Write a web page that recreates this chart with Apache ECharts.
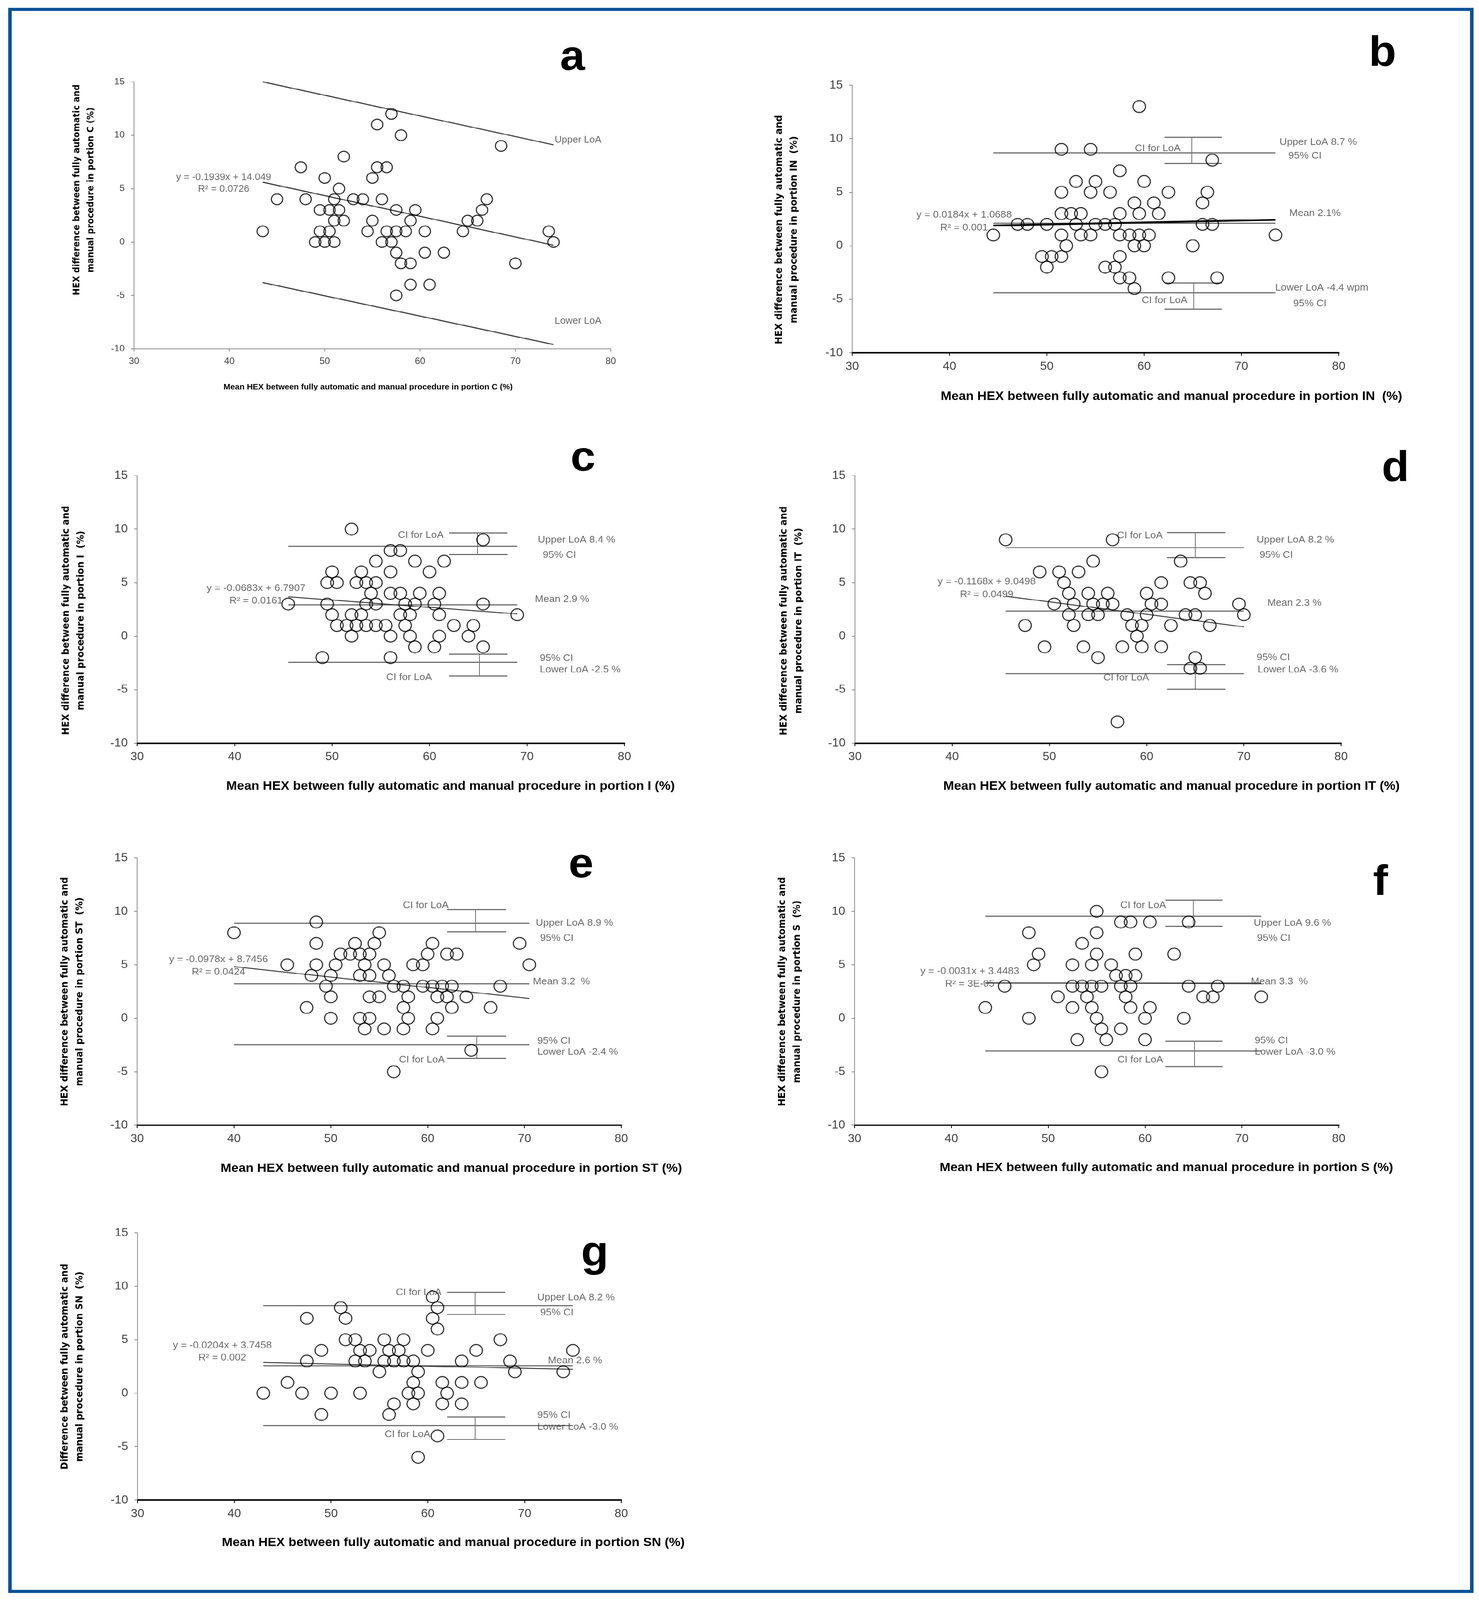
<!DOCTYPE html>
<html><head><meta charset="utf-8">
<script src="https://cdn.jsdelivr.net/npm/echarts@6/dist/echarts.min.js"></script>
<style>html,body{margin:0;padding:0;background:#fff;overflow:hidden}#c{width:3785px;height:4340px;transform-origin:0 0}</style>
</head><body><div id="c"></div>
<script>
// ---------- axis ranges ----------
const xRange = [30, 80, 10];
const yRange = [-10, 15, 5];

// ---------- panel a (portion C) ----------
const ptsA = [[43.5,1],[45,4],[47.5,7],[48,4],[49,0],[49.5,3],[49.5,1],[50,6],[50,0],[50.5,3],[50.5,1],[51,4],[51,2],[51,0],[51.5,5],[51.5,3],[52,8],[52,2],[53,4],[54,4],[54.5,1],[55,6],[55,2],[55.5,11],[55.5,7],[56,4],[56,0],[56.5,7],[56.5,1],[57,12],[57,0],[57.5,3],[57.5,1],[57.5,-1],[57.5,-5],[58,10],[58,-2],[58.5,1],[59,2],[59,-2],[59,-4],[59.5,3],[60.5,1],[60.5,-1],[61,-4],[62.5,-1],[64.5,1],[65,2],[66,2],[66.5,3],[67,4],[68.5,9],[70,-2],[73.5,1],[74,0]];
const loaA = [[[43.5,15],[74,9.1]],[[43.5,-3.8],[74,-9.6]]];
const regA = [[43.5,5.6],[74,-0.3]];
const ciA = [];
const labA = [['Upper LoA','l',74.1,9.55],['Lower LoA','l',74.1,-7.4],['y = -0.1939x + 14.049','c',39.4,6.07],['R\u00b2 = 0.0726','c',39.4,4.95]];

// ---------- panel b (portion IN) ----------
const ptsB = [[59.5,13],[51.5,9],[54.5,9],[67,8],[57.5,7],[53,6],[55,6],[60,6],[51.5,5],[54.5,5],[56.5,5],[62.5,5],[66.5,5],[59,4],[61,4],[66,4],[51.5,3],[52.5,3],[53.5,3],[57.5,3],[59.5,3],[61.5,3],[47,2],[48,2],[50,2],[53,2],[55,2],[56,2],[57,2],[66,2],[67,2],[44.5,1],[51.5,1],[53.5,1],[54.5,1],[57.5,1],[58.5,1],[59.5,1],[60.5,1],[73.5,1],[52,0],[59,0],[60,0],[65,0],[49.5,-1],[50.5,-1],[51.5,-1],[57.5,-1],[50,-2],[56,-2],[57,-2],[57.5,-3],[58.5,-3],[62.5,-3],[67.5,-3],[59,-4]];
const loaB = [[[44.5,8.7],[73.5,8.7]],[[44.5,2.1],[73.5,2.1]],[[44.5,-4.4],[73.5,-4.4]]];
const regB = [[44.5,1.89],[73.5,2.42]];
const ciB = [[62.1,68,64.9,10.15,7.7],[62.1,68,65.1,-3.45,-5.9]];
const labB = [['CI for LoA','c',61.4,9.1],['Upper LoA 8.7 %','l',73.9,9.67],['95% CI','l',74.8,8.4],['Mean 2.1%','l',74.9,3.03],['y = 0.0184x + 1.0688','c',41.5,2.9],['R\u00b2 = 0.001','c',41.5,1.67],['Lower LoA -4.4 wpm','l',73.45,-3.93],['CI for LoA','c',62.1,-5.1],['95% CI','l',75.3,-5.4]];

// ---------- panel c (portion I) ----------
const ptsC = [[52,10],[65.5,9],[56,8],[57,8],[54.5,7],[58.5,7],[61.5,7],[50,6],[53,6],[56,6],[60,6],[49.5,5],[50.5,5],[52.5,5],[53.5,5],[54.5,5],[54,4],[56,4],[57,4],[59,4],[61,4],[45.5,3],[49.5,3],[53.5,3],[54.5,3],[57.5,3],[58.5,3],[60.5,3],[65.5,3],[50,2],[52,2],[53,2],[57,2],[58,2],[61,2],[69,2],[50.5,1],[51.5,1],[52.5,1],[53.5,1],[54.5,1],[55.5,1],[57.5,1],[62.5,1],[64.5,1],[52,0],[56,0],[58,0],[61,0],[64,0],[58.5,-1],[60.5,-1],[65.5,-1],[49,-2],[56,-2]];
const loaC = [[[45.5,8.4],[69,8.4]],[[45.5,2.95],[69,2.95]],[[45.5,-2.45],[69,-2.45]]];
const regC = [[45.5,3.68],[69,2.08]];
const ciC = [[62,68,64.9,9.64,7.62],[62,68,65.1,-1.67,-3.69]];
const labC = [['CI for LoA','c',59.1,9.44],['Upper LoA 8.4 %','l',71.1,8.97],['95% CI','l',71.6,7.56],['Mean 2.9 %','l',70.8,3.45],['y = -0.0683x + 6.7907','c',42.2,4.48],['R\u00b2 = 0.0161','c',42.2,3.29],['95% CI','l',71.3,-2.06],['Lower LoA -2.5 %','l',71.3,-3.15],['CI for LoA','c',57.9,-3.85]];

// ---------- panel d (portion IT) ----------
const ptsD = [[45.5,9],[56.5,9],[54.5,7],[63.5,7],[49,6],[51,6],[53,6],[51.5,5],[61.5,5],[64.5,5],[65.5,5],[52,4],[54,4],[56,4],[60,4],[66,4],[50.5,3],[52.5,3],[54.5,3],[55.5,3],[56.5,3],[60.5,3],[61.5,3],[69.5,3],[52,2],[54,2],[55,2],[58,2],[60,2],[64,2],[65,2],[70,2],[47.5,1],[52.5,1],[58.5,1],[59.5,1],[62.5,1],[66.5,1],[59,0],[49.5,-1],[53.5,-1],[57.5,-1],[59.5,-1],[61.5,-1],[55,-2],[65,-2],[64.5,-3],[65.5,-3],[57,-8]];
const loaD = [[[45.5,8.28],[70,8.28]],[[45.5,2.35],[70,2.35]],[[45.5,-3.5],[70,-3.5]]];
const regD = [[45.5,3.73],[70,0.87]];
const ciD = [[62.1,68.1,65,9.7,7.36],[62.1,68.1,65,-2.64,-4.94]];
const labD = [['CI for LoA','c',59.3,9.4],['Upper LoA 8.2 %','l',71.3,8.97],['95% CI','l',71.6,7.56],['Mean 2.3 %','l',72.4,3.1],['y = -0.1168x + 9.0498','c',43.55,5.08],['R\u00b2 = 0.0499','c',43.55,3.89],['95% CI','l',71.3,-2.0],['Lower LoA -3.6 %','l',71.4,-3.13],['CI for LoA','c',57.9,-3.89]];

// ---------- panel e (portion ST) ----------
const ptsE = [[48.5,9],[40,8],[55,8],[48.5,7],[52.5,7],[54.5,7],[60.5,7],[69.5,7],[51,6],[52,6],[53,6],[54,6],[60,6],[62,6],[63,6],[45.5,5],[48.5,5],[50.5,5],[53.5,5],[55.5,5],[58.5,5],[59.5,5],[70.5,5],[48,4],[50,4],[53,4],[54,4],[56,4],[49.5,3],[56.5,3],[57.5,3],[59.5,3],[60.5,3],[61.5,3],[62.5,3],[67.5,3],[50,2],[54,2],[55,2],[58,2],[61,2],[62,2],[64,2],[47.5,1],[57.5,1],[62.5,1],[66.5,1],[50,0],[53,0],[54,0],[58,0],[61,0],[53.5,-1],[55.5,-1],[57.5,-1],[60.5,-1],[64.5,-3],[56.5,-5]];
const loaE = [[[40,8.9],[70.5,8.9]],[[40,3.22],[70.5,3.22]],[[40,-2.45],[70.5,-2.45]]];
const regE = [[40,4.83],[70.5,1.85]];
const ciE = [[62,68.1,64.95,10.17,8.08],[62,68.1,65.07,-1.65,-3.74]];
const labE = [['CI for LoA','c',59.8,10.57],['Upper LoA 8.9 %','l',71.15,8.9],['95% CI','l',71.6,7.5],['Mean 3.2  %','l',70.85,3.41],['y = -0.0978x + 8.7456','c',38.4,5.5],['R\u00b2 = 0.0424','c',38.4,4.3],['95% CI','l',71.3,-2.13],['Lower LoA -2.4 %','l',71.3,-3.18],['CI for LoA','c',59.4,-3.88]];

// ---------- panel f (portion S) ----------
const ptsF = [[55,10],[57.5,9],[58.5,9],[60.5,9],[64.5,9],[48,8],[55,8],[53.5,7],[49,6],[55,6],[59,6],[63,6],[48.5,5],[52.5,5],[54.5,5],[56.5,5],[57,4],[58,4],[59,4],[45.5,3],[52.5,3],[53.5,3],[54.5,3],[55.5,3],[57.5,3],[58.5,3],[64.5,3],[67.5,3],[51,2],[54,2],[58,2],[66,2],[67,2],[72,2],[43.5,1],[52.5,1],[54.5,1],[58.5,1],[60.5,1],[48,0],[55,0],[60,0],[64,0],[55.5,-1],[57.5,-1],[53,-2],[56,-2],[60,-2],[55.5,-5]];
const loaF = [[[43.5,9.55],[72,9.55]],[[43.5,3.3],[72,3.3]],[[43.5,-3.05],[72,-3.05]]];
const regF = [[43.5,3.31],[72,3.23]];
const ciF = [[62.1,68,64.96,11.07,8.62],[62.1,68,65.1,-2.13,-4.51]];
const labF = [['CI for LoA','c',59.8,10.57],['Upper LoA 9.6 %','l',71.2,8.9],['95% CI','l',71.55,7.5],['Mean 3.3  %','l',70.9,3.41],['y = -0.0031x + 3.4483','c',41.9,4.37],['R\u00b2 = 3E-05','c',41.9,3.2],['95% CI','l',71.3,-2.09],['Lower LoA -3.0 %','l',71.3,-3.18],['CI for LoA','c',59.5,-3.88]];

// ---------- panel g (portion SN) ----------
const ptsG = [[60.5,9],[51,8],[61,8],[47.5,7],[51.5,7],[60.5,7],[61,6],[51.5,5],[52.5,5],[55.5,5],[57.5,5],[67.5,5],[49,4],[53,4],[54,4],[56,4],[57,4],[60,4],[65,4],[75,4],[47.5,3],[52.5,3],[53.5,3],[55.5,3],[56.5,3],[57.5,3],[58.5,3],[63.5,3],[68.5,3],[55,2],[59,2],[69,2],[74,2],[45.5,1],[58.5,1],[61.5,1],[63.5,1],[65.5,1],[43,0],[47,0],[50,0],[53,0],[58,0],[59,0],[62,0],[56.5,-1],[58.5,-1],[61.5,-1],[63.5,-1],[49,-2],[56,-2],[61,-4],[59,-6]];
const loaG = [[[43,8.2],[75,8.2]],[[43,2.58],[75,2.58]],[[43,-3.0],[75,-3.0]]];
const regG = [[43,2.87],[75,2.22]];
const ciG = [[62,68,64.9,9.43,7.38],[62,68,64.9,-2.22,-4.33]];
const labG = [['CI for LoA','c',59.06,9.43],['Upper LoA 8.2 %','l',71.3,8.93],['95% CI','l',71.6,7.52],['Mean 2.6 %','l',72.4,3.04],['y = -0.0204x + 3.7458','c',38.76,4.45],['R\u00b2 = 0.002','c',38.76,3.3],['95% CI','l',71.3,-2.08],['Lower LoA -3.0 %','l',71.3,-3.17],['CI for LoA','c',57.9,-3.87]];

// ---------- titles ----------
const letters = ['a','b','c','d','e','f','g'];
const xTitles = [
 'Mean HEX between fully automatic and manual procedure in portion C (%)',
 'Mean HEX between fully automatic and manual procedure in portion IN  (%)',
 'Mean HEX between fully automatic and manual procedure in portion I (%)',
 'Mean HEX between fully automatic and manual procedure in portion IT (%)',
 'Mean HEX between fully automatic and manual procedure in portion ST (%)',
 'Mean HEX between fully automatic and manual procedure in portion S (%)',
 'Mean HEX between fully automatic and manual procedure in portion SN (%)'];
const yTitles = [
 'HEX difference between fully automatic and\nmanual procedure in portion C (%)',
 'HEX difference between fully automatic and\nmanual procedure in portion IN  (%)',
 'HEX difference between fully automatic and\nmanual procedure in portion I  (%)',
 'HEX difference between fully automatic and\nmanual procedure in portion IT  (%)',
 'HEX difference between fully automatic and\nmanual procedure in portion ST  (%)',
 'HEX difference between fully automatic and\nmanual procedure in portion S  (%)',
 'Difference between fully automatic and\nmanual procedure in portion SN  (%)'];

// ---------- layout (pixels) ----------
const SANS = "'Liberation Sans', Arial, sans-serif";
const WIDE = "'DejaVu Sans', Verdana, sans-serif";
const layout = [
 {grid:[343,222,1220,724], letter:[1465,158], xt:[942,1050], yt:[215,515], small:true},
 {grid:[2181,231,1245,726], letter:[3538,147], xt:[2998,1076], yt:[2013,623]},
 {grid:[351,1290,1247,726], letter:[1492,1245], xt:[1153,2133], yt:[188,1683]},
 {grid:[2188,1290,1244,726], letter:[3571,1273], xt:[2998,2133], yt:[2025,1684]},
 {grid:[351,2327,1239,725], letter:[1487,2348], xt:[1155,3170], yt:[185,2690]},
 {grid:[2187,2327,1239,725], letter:[3533,2396], xt:[2985,3168], yt:[2021,2690]},
 {grid:[352,3344,1238,725], letter:[1522,3402], xt:[1160,4185], yt:[185,3707]}
];
const panelData = [
 [ptsA,loaA,regA,ciA,labA],[ptsB,loaB,regB,ciB,labB],[ptsC,loaC,regC,ciC,labC],
 [ptsD,loaD,regD,ciD,labD],[ptsE,loaE,regE,ciE,labE],[ptsF,loaF,regF,ciF,labF],
 [ptsG,loaG,regG,ciG,labG]];

const grids=[], xAxes=[], yAxes=[], series=[], graphics=[];
graphics.push({type:'rect', silent:true, shape:{x:25.5,y:25.5,width:3741,height:4291},
  style:{fill:'none', stroke:'#0B5299', lineWidth:9}});

layout.forEach((L,i)=>{
  const [pts,loa,reg,ci,lab] = panelData[i];
  const small = !!L.small;
  const tickFs = small?24:31, annFs = small?25:26;
  grids.push({left:L.grid[0], top:L.grid[1], width:L.grid[2], height:L.grid[3], containLabel:false});
  xAxes.push({gridIndex:i, type:'value', min:xRange[0], max:xRange[1], interval:xRange[2],
    axisLine:{show:true, onZero:false, lineStyle:{color: small?'#8a8a8a':'#000', width: small?2:4}},
    axisTick:{show:true, length:8, lineStyle:{color: small?'#8a8a8a':'#000', width:2}},
    axisLabel:{fontSize:tickFs, color:'#404040', fontFamily:SANS, margin:22},
    splitLine:{show:false}});
  yAxes.push({gridIndex:i, type:'value', min:yRange[0], max:yRange[1], interval:yRange[2],
    axisLine:{show:true, onZero:false, lineStyle:{color:'#8a8a8a', width:2}},
    axisTick:{show:true, length:8, lineStyle:{color:'#8a8a8a', width:2}},
    axisLabel:{fontSize:tickFs, color:'#404040', fontFamily:SANS, margin:24},
    splitLine:{show:false}});
  series.push({type:'lines', coordinateSystem:'cartesian2d', xAxisIndex:i, yAxisIndex:i, silent:true, z:2,
    lineStyle:{color: small?'#404040':'#6e6e6e', width:3, opacity:1},
    data: loa.map(c=>({coords:c}))});
  const ciSeg=[];
  ci.forEach(c=>{
    ciSeg.push({coords:[[c[0],c[3]],[c[1],c[3]]]});
    ciSeg.push({coords:[[c[0],c[4]],[c[1],c[4]]]});
    ciSeg.push({coords:[[c[2],c[3]],[c[2],c[4]]], lineStyle:{width:2}});
  });
  if(ciSeg.length) series.push({type:'lines', coordinateSystem:'cartesian2d', xAxisIndex:i, yAxisIndex:i, silent:true, z:2,
    lineStyle:{color:'#6e6e6e', width:3, opacity:1}, data:ciSeg});
  series.push({type:'lines', coordinateSystem:'cartesian2d', xAxisIndex:i, yAxisIndex:i, silent:true, z:3,
    lineStyle:{color: i===1?'#000':'#3a3a3a', width: i===1?5:(small?3:2.5), opacity:1},
    data:[{coords:reg}]});
  series.push({type:'scatter', xAxisIndex:i, yAxisIndex:i, silent:true, z:4,
    symbol:'circle', symbolSize: small?29:32,
    itemStyle:{color:'rgba(255,255,255,0)', borderColor:'#000', borderWidth:3},
    data: pts});
  series.push({type:'scatter', xAxisIndex:i, yAxisIndex:i, silent:true, z:5, symbolSize:1,
    itemStyle:{color:'rgba(0,0,0,0)'},
    data: lab.map(l=>({value:[l[2],l[3]], label:{show:true, formatter:l[0],
      position: l[1]==='l'?'right':'inside', distance:0,
      fontSize:annFs, fontFamily:SANS, color:'#404040'}}))});
  graphics.push({type:'text', silent:true, x:L.letter[0], y:L.letter[1],
    style:{text:letters[i], fontSize:115, fontWeight:'bold', fontFamily:SANS, fill:'#000',
      align:'center', verticalAlign:'middle', textAlign:'center', textVerticalAlign:'middle'}});
  graphics.push({type:'text', silent:true, x:L.xt[0], y:L.xt[1],
    style:{text:xTitles[i], fontSize: small?21:33, fontWeight:'bold', fontFamily:SANS, fill:'#000',
      align:'center', verticalAlign:'middle', textAlign:'center', textVerticalAlign:'middle'}});
  graphics.push({type:'text', silent:true, x:L.yt[0], y:L.yt[1], rotation:Math.PI/2,
    style:{text:yTitles[i], fontSize: small?23:25, lineHeight: small?36:38, fontWeight:'bold', fontFamily:WIDE, fill:'#000',
      align:'center', verticalAlign:'middle', textAlign:'center', textVerticalAlign:'middle'}});
});

// fit the 3785x4340 page into the actual viewport if it is smaller
const el = document.getElementById('c');
const sx = Math.min(1, window.innerWidth/3785), sy = Math.min(1, window.innerHeight/4340);
if (sx < 1 || sy < 1) el.style.transform = 'scale(' + sx + ',' + sy + ')';

const chart = echarts.init(el, null, {renderer:'canvas'});
chart.setOption({backgroundColor:'#fff', animation:false, grid:grids, xAxis:xAxes, yAxis:yAxes, series:series, graphic:graphics});
</script></body></html>
